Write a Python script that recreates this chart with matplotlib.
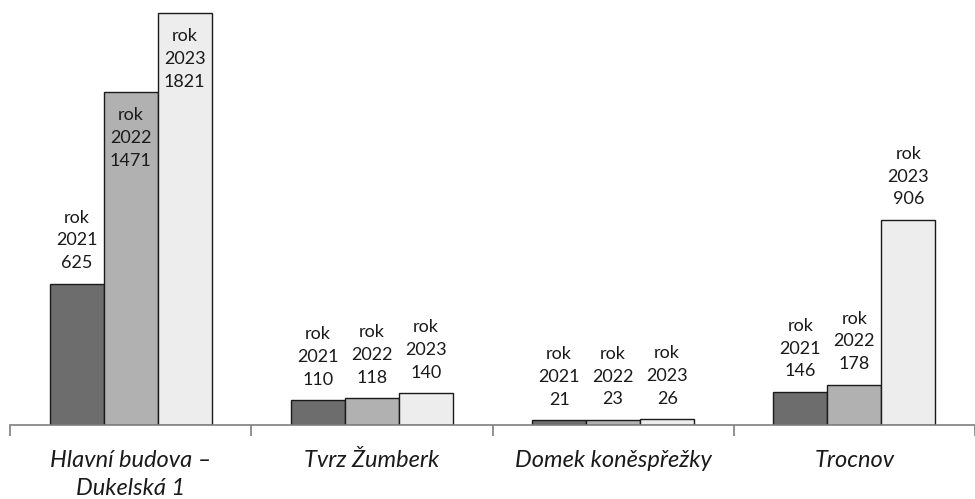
import matplotlib
matplotlib.use("Agg")
import matplotlib.pyplot as plt
import numpy as np

categories = ["Hlavní budova –\nDukelská 1", "Tvrz Žumberk", "Domek koněspřežky", "Trocnov"]
years = ["2021", "2022", "2023"]
v2021 = [625, 110, 21, 146]
v2022 = [1471, 118, 23, 178]
v2023 = [1821, 140, 26, 906]
series = [v2021, v2022, v2023]
colors = ["#6d6d6d", "#b1b1b1", "#ededed"]
# labels placed inside the bar top (too tall for outside)
inside = {(1, 0), (2, 0)}

plt.rcParams['font.family'] = ['Lato', 'DejaVu Sans']

fig = plt.figure(figsize=(9.75, 4.99), dpi=100)
ax = fig.add_axes([10/975, 74/499, 965/975, 425/499])

x = np.arange(len(categories))
w = 0.224
for i, (vals, c) in enumerate(zip(series, colors)):
    xs = x + (i - 1) * w
    ax.bar(xs, vals, width=w, color=c, edgecolor="#1a1a1a", linewidth=1.0, zorder=2)
    for j, (xx, v) in enumerate(zip(xs, vals)):
        txt = f"rok\n{years[i]}\n{v}"
        if (i, j) in inside:
            ax.annotate(txt, (xx, v), xytext=(0, -11), textcoords="offset points",
                        ha="center", va="top", fontsize=13, linespacing=1.52, color="#1a1a1a")
        else:
            ax.annotate(txt, (xx, v), xytext=(0, 9), textcoords="offset points",
                        ha="center", va="bottom", fontsize=13, linespacing=1.52, color="#1a1a1a")

ax.set_xlim(-0.5, 3.5)
ax.set_ylim(0, 1878)
for s in ["top", "right", "left"]:
    ax.spines[s].set_visible(False)
ax.spines["bottom"].set_color("#7f7f7f")
ax.spines["bottom"].set_linewidth(1.2)
ax.set_yticks([])
ax.set_xticks(np.arange(-0.5, 3.6, 1.0), minor=False)
ax.set_xticklabels([])
ax.tick_params(axis="x", which="major", length=8, color="#7f7f7f", width=1.2)
ax.set_xticks(x, minor=True)
ax.set_xticklabels(categories, minor=True, fontsize=17, style="italic", color="#1a1a1a", linespacing=1.4)
ax.tick_params(axis="x", which="minor", length=0, pad=18)

fig.savefig("out.png", dpi=100)
